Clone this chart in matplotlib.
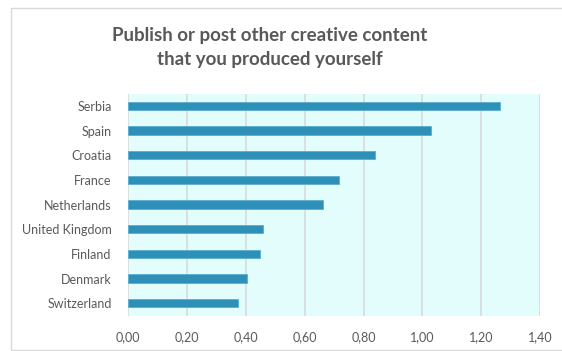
import matplotlib.pyplot as plt
from matplotlib.patches import Rectangle
from matplotlib.ticker import MultipleLocator, FuncFormatter

# values per country, listed top to bottom
countries = ["Serbia", "Spain", "Croatia", "France", "Netherlands",
             "United Kingdom", "Finland", "Denmark", "Switzerland"]
scores = [1.264, 1.030, 0.838, 0.716, 0.663, 0.458, 0.448, 0.404, 0.373]

title_text = "Publish or post other creative content\nthat you produced yourself"

plt.rcParams['font.family'] = ['Lato', 'DejaVu Sans']
grey_text = '#595959'

fig = plt.figure(figsize=(5.62, 3.51), dpi=100)
W, H = 562, 351

# outer chart border
fig.patches.append(Rectangle((11 / W, 1 - 350 / H), (W - 11) / W + 0.01, (350 - 8) / H,
                             transform=fig.transFigure, facecolor='none',
                             edgecolor='#D9D9D9', lw=1, zorder=0))

ax = fig.add_axes([128.3 / W, 1 - 315.5 / H, (540 - 128.3) / W, (315.5 - 93.5) / H])
ax.set_facecolor('#E3FDFD')

ypos = list(range(len(countries)))[::-1]
ax.barh(ypos, scores, height=0.34, color='#2E8FB8', edgecolor='#5AAFD0',
        linewidth=0.6, zorder=3)

ax.set_xlim(0, 1.4)
ax.set_ylim(-0.5, len(countries) - 0.5)
ax.xaxis.set_major_locator(MultipleLocator(0.2))
ax.xaxis.set_major_formatter(FuncFormatter(lambda v, p: f"{v:.2f}".replace('.', ',')))
ax.set_yticks(ypos)
ax.set_yticklabels(countries)

ax.grid(axis='x', color='#D9D9D9', lw=1.2, zorder=1)
ax.set_axisbelow(True)
for s in ax.spines.values():
    s.set_visible(False)
ax.tick_params(axis='both', length=0, labelsize=9, labelcolor=grey_text)
ax.tick_params(axis='y', pad=12)
ax.tick_params(axis='x', pad=11)

fig.text(270 / W, 1 - 47 / H, title_text, ha='center', va='center',
         fontsize=13.5, fontweight='bold', color=grey_text, linespacing=1.5)

fig.savefig('out.png', dpi=100)
